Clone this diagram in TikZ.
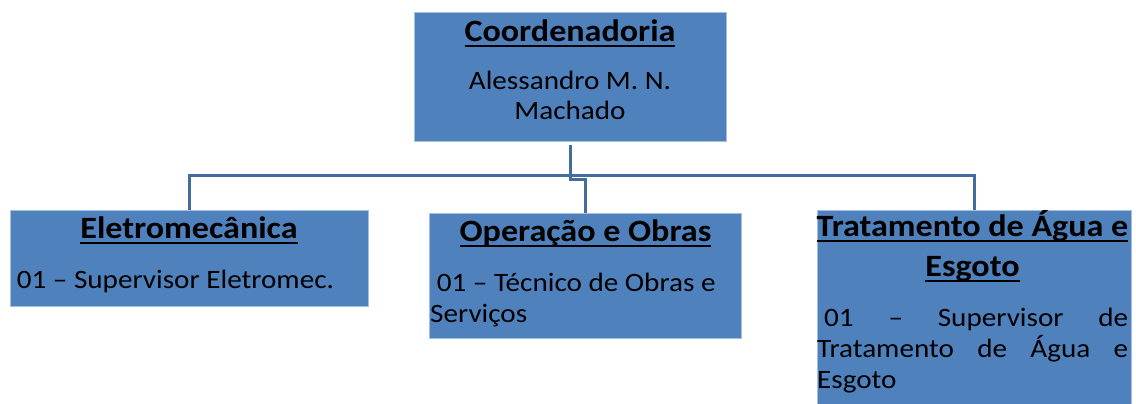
\documentclass[tikz,border=0pt]{standalone}
\usepackage{fontspec}
\setmainfont{Carlito}[FakeStretch=1.1]
\definecolor{boxblue}{RGB}{79,129,189}
\definecolor{boxedge}{RGB}{167,191,222}
\definecolor{linkblue}{RGB}{68,108,158}
\newcommand\headfont{\fontsize{31}{40}\selectfont\bfseries}
\newcommand\bodyfont{\fontsize{26.5}{31}\selectfont}
\newcommand\ulhead[1]{\leavevmode\setbox0\hbox{#1}\rlap{\rule[-0.19em]{\wd0}{0.065em}}\box0}
\tikzstyle{unit}=[rectangle,fill=boxblue,draw=boxedge,line width=1pt,inner sep=0pt,outer sep=0pt]
\tikzstyle{link}=[draw=linkblue,line width=3pt]
\tikzstyle{headtxt}=[anchor=base,inner sep=0pt,font=\headfont]
\tikzstyle{bodytxt}=[anchor=base west,inner sep=0pt,font=\bodyfont]

\begin{document}
\begin{tikzpicture}[x=1pt,y=-1pt]
        \useasboundingbox (0,0) rectangle (1136,404);
        \node[unit,minimum width=312pt,minimum height=128pt] (coord) at (570,77) {};
        \node[unit,minimum width=358pt,minimum height=96pt] (elet) at (189,258) {};
        \node[unit,minimum width=312pt,minimum height=125pt] (oper) at (585,275.5) {};
        \node[unit,minimum width=314pt,minimum height=200pt] (trat) at (974,310) {};
        % ligacoes
        \draw[link] ([yshift=-4pt]coord.south) -- ++(0,34) -| (oper.north);
        \draw[link] (elet.north) -- ++(0,-35) -| (trat.north);
        % textos
        \node[headtxt] (coordhd) at (570,41.5) {\ulhead{Coordenadoria}};
        \node[bodytxt,anchor=base] (coordnm) at (570,89) {\parbox[t]{300pt}{\centering Alessandro M. N.\\Machado}};
        \node[headtxt] (elethd) at (189,238.5) {\ulhead{Eletromecânica}};
        \node[bodytxt] (eletjob) at (10,288) {\ 01 – Supervisor Eletromec.};
        \node[headtxt] (operhd) at (585.5,241) {\ulhead{Operação e Obras}};
        \node[bodytxt] (operjob) at (430,291) {\parbox[t]{310pt}{\ 01 – Técnico de Obras e\\Serviços}};
        \node[headtxt] (trathd) at (972.5,236) {\parbox[t]{316pt}{\centering\ulhead{Tratamento de Água e}\\\ulhead{Esgoto}}};
        \node[bodytxt] (tratjob) at (817,326) {\parbox[t]{311pt}{\makebox[311pt][s]{\hspace*{7pt}01 – Supervisor de}\\\makebox[311pt][s]{Tratamento de Água e}\\Esgoto}};
      \end{tikzpicture}
\end{document}
